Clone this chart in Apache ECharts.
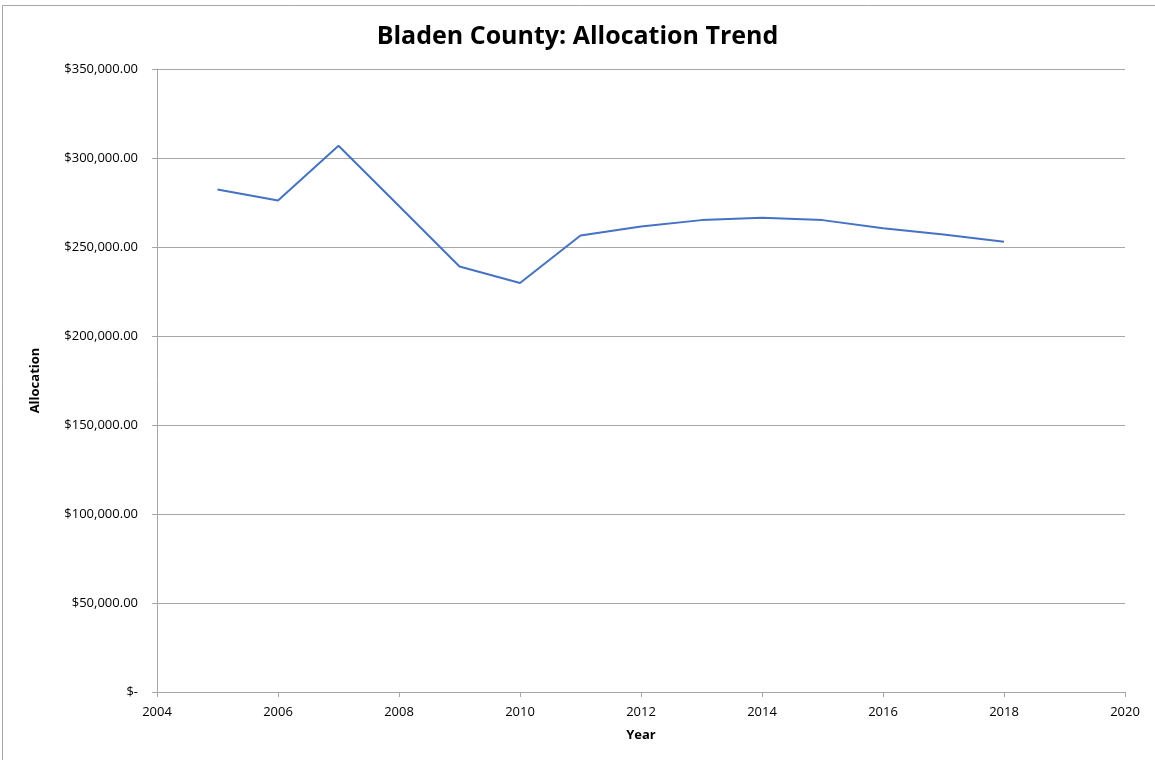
<!DOCTYPE html>
<html>
<head>
<meta charset="utf-8">
<script src="https://cdn.jsdelivr.net/npm/echarts@6/dist/echarts.min.js"></script>
<style>html,body{margin:0;padding:0;background:#fff}#c{width:1155px;height:760px}</style>
</head>
<body>
<div id="c"></div>
<script>
const years = [2005, 2006, 2007, 2008, 2009, 2010, 2011, 2012, 2013, 2014, 2015, 2016, 2017, 2018];
const allocation = [282300, 276100, 306900, 273000, 239000, 229800, 256500, 261500, 265100, 266400, 265100, 260500, 257000, 253000];
const title = 'Bladen County: Allocation Trend';
const xName = 'Year';
const yName = 'Allocation';

const font = '"Open Sans", "Liberation Sans", sans-serif';
const chart = echarts.init(document.getElementById('c'));
function money(v) {
  if (v === 0) return '$-';
  return '$' + v.toLocaleString('en-US', {minimumFractionDigits: 2, maximumFractionDigits: 2});
}
chart.setOption({
  animation: false,
  graphic: [{
    type: 'rect', left: 2, top: 5, z: -1,
    shape: {width: 1170, height: 780},
    style: {fill: '#fff', stroke: '#a6a6a6', lineWidth: 1}
  }],
  title: {
    text: title, left: 'center', top: 19,
    textStyle: {fontFamily: font, fontSize: 25, fontWeight: 'bold', color: '#000'}
  },
  grid: {left: 157, right: 30, top: 69, bottom: 68},
  xAxis: {
    type: 'value', min: 2004, max: 2020, interval: 2,
    name: xName, nameLocation: 'middle', nameGap: 37,
    nameTextStyle: {fontFamily: font, fontSize: 13, fontWeight: 'bold', color: '#000'},
    axisLine: {show: true, lineStyle: {color: '#a6a6a6', width: 1}},
    axisTick: {show: true, length: 5, lineStyle: {color: '#a6a6a6'}},
    axisLabel: {fontFamily: font, fontSize: 13, color: '#000', margin: 14, formatter: v => String(v)},
    splitLine: {show: false}
  },
  yAxis: {
    type: 'value', min: 0, max: 350000, interval: 50000,
    name: yName, nameLocation: 'middle', nameGap: 115, nameRotate: 90,
    nameTextStyle: {fontFamily: font, fontSize: 13, fontWeight: 'bold', color: '#000'},
    axisLine: {show: true, lineStyle: {color: '#a6a6a6', width: 1}},
    axisTick: {show: true, length: 5, lineStyle: {color: '#a6a6a6'}},
    axisLabel: {fontFamily: font, fontSize: 13, color: '#000', margin: 19, formatter: money},
    splitLine: {show: true, lineStyle: {color: '#a6a6a6', width: 1}}
  },
  series: [{
    type: 'line',
    data: years.map((y, i) => [y, allocation[i]]),
    showSymbol: false, symbol: 'none',
    lineStyle: {color: '#4472c4', width: 2},
    itemStyle: {color: '#4472c4'}
  }]
});
</script>
</body>
</html>
